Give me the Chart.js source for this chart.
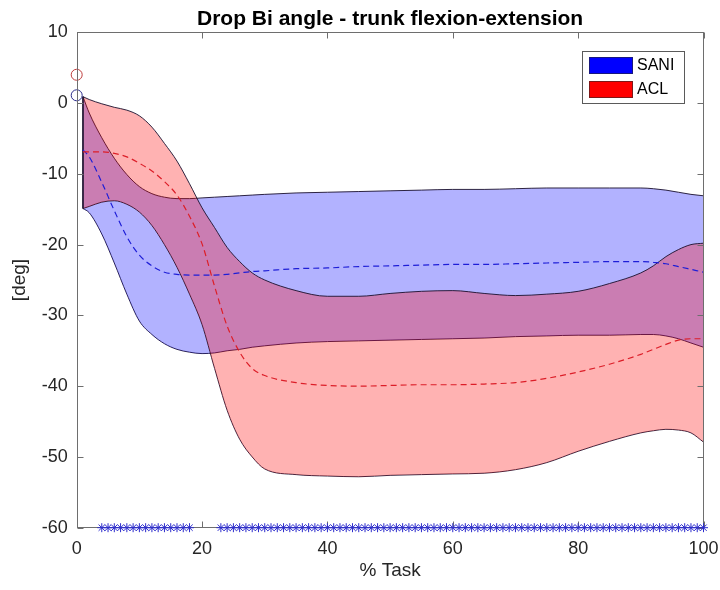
<!DOCTYPE html>
<html>
<head>
<meta charset="utf-8">
<title>Drop Bi angle - trunk flexion-extension</title>
<script src="https://cdn.jsdelivr.net/npm/chart.js@4.4.1/dist/chart.umd.min.js"></script>
<style>
    html, body { margin: 0; padding: 0; background: #ffffff; }
    #wrap { width: 720px; height: 590px; }
</style>
</head>
<body>
<div id="wrap"><canvas id="trunkChart" width="720" height="590"></canvas></div>
<script>
// % of task where the curves are sampled
var taskPct = [1, 2, 4, 6, 8, 10, 12, 14, 16, 18, 20, 22, 24, 26, 28, 30, 35, 40, 45, 50, 55, 60, 65, 70, 75, 80, 85, 90, 92, 94, 96, 98, 100];

// SANI group: mean and band limits [deg]
var saniMean  = [-6.6, -7.6, -11.2, -15.2, -18.9, -21.5, -23.0, -23.9, -24.2, -24.3, -24.3, -24.3, -24.2, -24.0, -23.8, -23.7, -23.4, -23.3, -23.1, -23.0, -22.9, -22.8, -22.8, -22.7, -22.6, -22.5, -22.4, -22.4, -22.5, -22.7, -23.1, -23.5, -23.9];
var saniUpper = [0.9, -1.4, -4.9, -7.8, -10.1, -11.8, -12.8, -13.3, -13.5, -13.5, -13.4, -13.3, -13.2, -13.1, -13.0, -12.9, -12.7, -12.6, -12.5, -12.4, -12.3, -12.2, -12.2, -12.1, -12.0, -12.0, -12.0, -12.0, -12.1, -12.3, -12.6, -12.9, -13.1];
var saniLower = [-14.9, -15.5, -18.5, -22.6, -27.0, -30.8, -32.7, -34.0, -34.8, -35.2, -35.4, -35.3, -35.0, -34.8, -34.5, -34.3, -33.9, -33.7, -33.6, -33.5, -33.4, -33.3, -33.2, -33.0, -32.9, -32.8, -32.8, -32.7, -32.7, -32.9, -33.3, -33.9, -34.5];

// ACL group: mean and band limits [deg]
var aclMean  = [-6.9, -6.9, -6.9, -7.1, -7.6, -8.5, -9.6, -11.1, -13.0, -16.0, -19.9, -25.9, -31.5, -35.2, -37.5, -38.5, -39.5, -39.9, -40.0, -39.9, -39.8, -39.8, -39.7, -39.5, -38.9, -38.0, -36.9, -35.5, -34.8, -34.1, -33.5, -33.3, -33.3];
var aclUpper = [0.9, 0.5, -0.1, -0.6, -1.0, -1.8, -3.4, -5.7, -8.2, -11.4, -14.8, -17.6, -20.4, -22.4, -24.0, -25.0, -26.5, -27.3, -27.3, -26.9, -26.6, -26.5, -26.9, -27.2, -27.0, -26.6, -25.5, -24.0, -23.0, -21.7, -20.7, -20.0, -19.8];
var aclLower = [-14.9, -14.6, -14.0, -13.8, -14.3, -15.4, -17.3, -20.0, -23.2, -27.0, -31.3, -37.5, -43.4, -47.5, -50.0, -51.7, -52.5, -52.7, -52.8, -52.6, -52.5, -52.4, -52.3, -51.8, -50.8, -49.2, -47.8, -46.6, -46.3, -46.1, -46.2, -46.6, -47.9];

// starting values (circles at 0 %)
var startPct = [0];
var saniStart = [1.1];
var aclStart = [4.0];

// % task where the difference is significant (stars on the bottom line)
var sigPct = [4, 5, 6, 7, 8, 9, 10, 11, 12, 13, 14, 15, 16, 17, 18,
    23, 24, 25, 26, 27, 28, 29, 30, 31, 32, 33, 34, 35, 36, 37, 38, 39, 40,
    41, 42, 43, 44, 45, 46, 47, 48, 49, 50, 51, 52, 53, 54, 55, 56, 57, 58, 59, 60,
    61, 62, 63, 64, 65, 66, 67, 68, 69, 70, 71, 72, 73, 74, 75, 76, 77, 78, 79, 80,
    81, 82, 83, 84, 85, 86, 87, 88, 89, 90, 91, 92, 93, 94, 95, 96, 97, 98, 99, 100];
var sigLevel = -60;

var groupNames = ['SANI', 'ACL'];
var xTicks = [0, 20, 40, 60, 80, 100];
var yTicks = [10, 0, -10, -20, -30, -40, -50, -60];

function toPoints(xs, ys) {
    return xs.map(function(x, i) { return { x: x, y: ys[i] }; });
}

var edgeColor = 'rgba(25, 15, 45, 0.9)';

// box around the plot with inward ticks, drawn just before the stars
var axisBox = {
    id: 'axisBox',
    beforeDatasetDraw: function(chart, args) {
        if (args.index !== chart.data.datasets.length - 1) return;
        var ctx = chart.ctx, a = chart.chartArea;
        var xs = chart.scales.x, ys = chart.scales.y;
        var l = Math.round(a.left) + 0.5, r = Math.round(a.right) - 0.5;
        var t = Math.round(a.top) + 0.5, b = Math.round(a.bottom) - 0.5;
        ctx.save();
        ctx.strokeStyle = '#6e6e6e';
        ctx.lineWidth = 1;
        ctx.strokeRect(l, t, r - l, b - t);
        ctx.beginPath();
        xTicks.forEach(function(v) {
            var px = Math.round(xs.getPixelForValue(v)) + 0.5;
            ctx.moveTo(px, b); ctx.lineTo(px, b - 6);
            ctx.moveTo(px, t); ctx.lineTo(px, t + 6);
        });
        yTicks.forEach(function(v) {
            var py = Math.round(ys.getPixelForValue(v)) + 0.5;
            ctx.moveTo(l, py); ctx.lineTo(l + 6, py);
            ctx.moveTo(r, py); ctx.lineTo(r - 6, py);
        });
        ctx.stroke();
        ctx.restore();
    }
};

// title and legend box, MATLAB style
var decorations = {
    id: 'decorations',
    afterDraw: function(chart) {
        var ctx = chart.ctx, a = chart.chartArea;
        ctx.save();
        ctx.fillStyle = '#000000';
        ctx.font = 'bold 21px "Liberation Sans", Arial, sans-serif';
        ctx.textAlign = 'center';
        ctx.textBaseline = 'alphabetic';
        ctx.fillText('Drop Bi angle - trunk flexion-extension', (a.left + a.right) / 2, 25);

        var bx = 582.5, by = 51.5, bw = 102, bh = 52;
        ctx.fillStyle = '#ffffff';
        ctx.fillRect(bx, by, bw, bh);
        ctx.strokeStyle = '#5a5a5a';
        ctx.lineWidth = 1;
        ctx.strokeRect(bx, by, bw, bh);
        var swatches = ['#0000ff', '#ff0000'];
        ctx.font = '16px "Liberation Sans", Arial, sans-serif';
        ctx.textAlign = 'left';
        ctx.textBaseline = 'middle';
        groupNames.forEach(function(name, i) {
            var y = 57 + i * 24;
            ctx.fillStyle = swatches[i];
            ctx.fillRect(589, y, 44, 17);
            ctx.strokeStyle = 'rgba(40,40,40,0.6)';
            ctx.strokeRect(589.5, y + 0.5, 43, 16);
            ctx.fillStyle = '#000000';
            ctx.fillText(name, 637, y + 9);
        });
        ctx.restore();
    }
};

var ctx = document.getElementById('trunkChart');
var trunkChart = new Chart(ctx, {
    type: 'line',
    data: {
        datasets: [{
            label: 'SANI lower',
            data: toPoints(taskPct, saniLower),
            borderColor: edgeColor,
            borderWidth: 1,
            fill: false,
            order: 10
        }, {
            label: 'SANI upper',
            data: toPoints(taskPct, saniUpper),
            borderColor: edgeColor,
            borderWidth: 1,
            backgroundColor: 'rgba(0, 0, 255, 0.3)',
            fill: '-1',
            order: 9
        }, {
            label: 'ACL lower',
            data: toPoints(taskPct, aclLower),
            borderColor: edgeColor,
            borderWidth: 1,
            fill: false,
            order: 8
        }, {
            label: 'ACL upper',
            data: toPoints(taskPct, aclUpper),
            borderColor: edgeColor,
            borderWidth: 1,
            backgroundColor: 'rgba(255, 0, 0, 0.3)',
            fill: '-1',
            order: 7
        }, {
            label: 'band edge',
            data: [{ x: taskPct[0], y: saniUpper[0] }, { x: taskPct[0], y: saniLower[0] }],
            borderColor: edgeColor,
            borderWidth: 1,
            cubicInterpolationMode: 'default',
            tension: 0,
            order: 6
        }, {
            label: 'SANI mean',
            data: toPoints(taskPct, saniMean),
            borderColor: 'rgb(30, 30, 215)',
            borderWidth: 1.2,
            borderDash: [6, 4],
            order: 5
        }, {
            label: 'ACL mean',
            data: toPoints(taskPct, aclMean),
            borderColor: 'rgb(220, 30, 40)',
            borderWidth: 1.2,
            borderDash: [6, 4],
            order: 4
        }, {
            label: 'SANI start',
            data: toPoints(startPct, saniStart),
            showLine: false,
            pointStyle: 'circle',
            pointRadius: 5.5,
            pointBorderWidth: 1,
            pointBorderColor: 'rgb(45, 45, 140)',
            pointBackgroundColor: 'rgba(0,0,0,0)',
            clip: false,
            order: 3
        }, {
            label: 'ACL start',
            data: toPoints(startPct, aclStart),
            showLine: false,
            pointStyle: 'circle',
            pointRadius: 5.5,
            pointBorderWidth: 1,
            pointBorderColor: 'rgb(190, 60, 60)',
            pointBackgroundColor: 'rgba(0,0,0,0)',
            clip: false,
            order: 2
        }, {
            label: 'significant',
            data: sigPct.map(function(x) { return { x: x, y: sigLevel }; }),
            showLine: false,
            pointStyle: 'star',
            pointRadius: 4.5,
            pointBorderWidth: 1,
            pointBorderColor: 'rgb(45, 45, 205)',
            clip: false,
            order: 1
        }]
    },
    options: {
        responsive: false,
        animation: false,
        events: [],
        layout: { padding: { top: 32.3, right: 16.5, left: 0, bottom: 0 } },
        elements: {
            line: { cubicInterpolationMode: 'monotone' },
            point: { radius: 0 }
        },
        plugins: {
            legend: { display: false },
            title: { display: false },
            tooltip: { enabled: false }
        },
        scales: {
            x: {
                type: 'linear',
                min: 0,
                max: 100,
                afterBuildTicks: function(s) { s.ticks = xTicks.map(function(v) { return { value: v }; }); },
                afterFit: function(s) {
                    // fixed plot box, labels may hang over the edges
                    s.height = 62.3;
                    s.paddingLeft = 0;
                    s.paddingRight = 0;
                },
                grid: { display: false, drawTicks: false },
                border: { display: false },
                ticks: { color: '#262626', padding: 10.5, font: { family: '"Liberation Sans", Arial, sans-serif', size: 18 } },
                title: {
                    display: true,
                    text: '% Task',
                    color: '#262626',
                    padding: { top: 0, bottom: 7.6 },
                    font: { family: '"Liberation Sans", Arial, sans-serif', size: 19 }
                }
            },
            y: {
                type: 'linear',
                min: -60,
                max: 10,
                afterBuildTicks: function(s) { s.ticks = yTicks.map(function(v) { return { value: v }; }); },
                afterFit: function(s) {
                    s.width = 76.7;
                    s.paddingTop = 0;
                    s.paddingBottom = 0;
                },
                grid: { display: false, drawTicks: false },
                border: { display: false },
                ticks: { color: '#262626', padding: 9, font: { family: '"Liberation Sans", Arial, sans-serif', size: 18 } },
                title: {
                    display: true,
                    text: '[deg]',
                    color: '#262626',
                    padding: { top: 8.6, bottom: 0 },
                    font: { family: '"Liberation Sans", Arial, sans-serif', size: 19 }
                }
            }
        }
    },
    plugins: [axisBox, decorations]
});
</script>
</body>
</html>
